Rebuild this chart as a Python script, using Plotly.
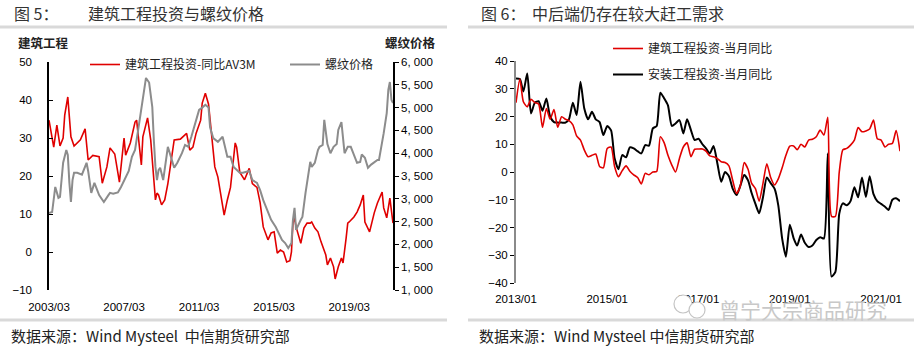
import pandas as pd
import plotly.graph_objects as go

W, H = 918, 350

# ---------------- 图5：建筑工程投资与螺纹价格 ----------------
inv_dates = ["2003-03", "2003-06", "2003-08", "2003-10", "2003-12", "2004-01", "2004-03", "2004-05",
             "2004-07", "2004-11", "2005-02", "2005-04", "2005-07", "2005-11", "2006-01", "2006-04",
             "2006-06", "2006-09", "2006-12", "2007-03", "2007-04", "2007-07", "2007-10", "2007-11",
             "2008-01", "2008-02", "2008-03", "2008-06", "2008-08", "2008-10", "2008-11", "2008-12",
             "2009-01", "2009-03", "2009-05", "2009-07", "2009-11", "2010-03", "2010-07", "2010-09",
             "2010-11", "2011-01", "2011-04", "2011-05", "2011-07", "2011-09", "2011-11", "2012-01",
             "2012-03", "2012-05", "2012-07", "2012-09", "2012-11", "2013-02", "2013-03", "2013-05",
             "2013-08", "2013-11", "2014-01", "2014-04", "2014-06", "2014-08", "2014-11", "2015-01",
             "2015-03", "2015-05", "2015-07", "2015-09", "2015-11", "2016-01", "2016-02", "2016-03",
             "2016-04", "2016-05", "2016-08", "2016-10", "2016-12", "2017-02", "2017-03", "2017-05",
             "2017-07", "2017-09", "2017-12", "2018-01", "2018-03", "2018-05", "2018-06", "2018-08",
             "2018-10", "2018-11", "2018-12", "2019-01", "2019-02", "2019-03", "2019-06", "2019-08",
             "2019-10", "2019-12", "2020-01", "2020-04", "2020-07", "2020-09", "2020-12", "2021-01",
             "2021-03", "2021-05", "2021-07"]
inv_yoy_av3m = [34.7, 27.6, 33.4, 27.9, 30.0, 36.0, 40.8, 30.3,
                27.9, 29.5, 32.4, 24.2, 25.4, 25.1, 18.1, 22.4,
                27.4, 25.8, 18.4, 30.0, 25.5, 28.7, 34.2, 34.7,
                26.8, 22.9, 30.3, 35.3, 29.5, 19.0, 13.7, 15.5,
                15.0, 12.4, 13.7, 18.0, 29.5, 29.7, 31.2, 26.8,
                27.6, 31.2, 34.7, 39.2, 41.8, 38.9, 30.3, 22.4,
                19.7, 14.5, 9.7, 13.7, 17.0, 28.7, 27.6, 21.0,
                19.0, 22.0, 18.0, 17.0, 13.0, 6.6, 3.2, 5.0,
                5.3, -0.3, 0.5, 0.0, -2.6, -2.3, 0.0, 7.6,
                9.0, 6.6, 2.3, 6.3, 7.6, 7.6, 7.9, 6.3,
                5.3, 2.6, -0.8, -3.4, -1.6, -3.9, -7.1, -3.9,
                -1.6, -2.9, 0.0, 3.7, 7.6, 7.9, 9.2, 10.5,
                12.4, 15.0, 7.9, 5.3, 10.3, 12.9, 15.8, 11.6,
                9.0, 14.2, 7.6]

rebar_dates = ["2003-03", "2003-05", "2003-07", "2003-09", "2003-10", "2003-12", "2004-02", "2004-03",
               "2004-04", "2004-05", "2004-06", "2004-07", "2004-09", "2004-12", "2005-03", "2005-04",
               "2005-06", "2005-08", "2005-11", "2006-02", "2006-05", "2006-06", "2006-08", "2006-11",
               "2007-01", "2007-04", "2007-06", "2007-08", "2007-10", "2007-12", "2008-02", "2008-04",
               "2008-05", "2008-07", "2008-09", "2008-10", "2008-11", "2008-12", "2009-01", "2009-02",
               "2009-04", "2009-07", "2009-11", "2010-01", "2010-04", "2010-06", "2010-08", "2010-10",
               "2010-12", "2011-03", "2011-05", "2011-07", "2011-09", "2011-10", "2011-12", "2012-03",
               "2012-06", "2012-09", "2012-11", "2013-01", "2013-05", "2013-07", "2013-11", "2014-01",
               "2014-04", "2014-06", "2014-08", "2014-11", "2015-01", "2015-04", "2015-06", "2015-08",
               "2015-10", "2015-12", "2016-02", "2016-03", "2016-04", "2016-05", "2016-08", "2016-09",
               "2016-11", "2016-12", "2017-02", "2017-03", "2017-05", "2017-07", "2017-08", "2017-10",
               "2017-11", "2018-01", "2018-03", "2018-05", "2018-07", "2018-08", "2018-10", "2018-12",
               "2019-02", "2019-04", "2019-06", "2019-08", "2019-10", "2019-11", "2020-01", "2020-03",
               "2020-05", "2020-07", "2020-09", "2020-10", "2020-12", "2021-01", "2021-03", "2021-04",
               "2021-05", "2021-06", "2021-07"]
rebar_price = [2690, 2710, 3260, 3020, 3040, 3790, 4070, 3960,
               3350, 2930, 3410, 3570, 3570, 3530, 3790, 3610,
               3130, 3350, 3080, 2930, 3080, 3130, 3110, 3140,
               3260, 3480, 3610, 3920, 4070, 4510, 5010, 5450,
               5650, 5550, 5010, 4290, 3700, 3410, 3630, 3680,
               3410, 4140, 3680, 3790, 4000, 4180, 4140, 4360,
               4620, 4950, 5000, 5060, 5000, 4570, 4330, 4250,
               4360, 3920, 3920, 3700, 3570, 3570, 3610, 3410,
               3350, 3190, 2970, 2690, 2540, 2380, 2250, 2100,
               2030, 1920, 2030, 2540, 2800, 2320, 2540, 2600,
               3130, 3370, 3810, 3700, 3790, 4070, 4140, 4180,
               4730, 4200, 4000, 4140, 4200, 4510, 4680, 4000,
               4140, 4140, 3970, 3790, 3810, 3970, 3900, 3680,
               3750, 3810, 3850, 3850, 4220, 4440, 4880, 5390,
               5560, 5170, 5100]

fig5_ticks = ["2003-03-01", "2007-03-01", "2011-03-01", "2015-03-01", "2019-03-01"]
fig5_ticktext = ["2003/03", "2007/03", "2011/03", "2015/03", "2019/03"]
price_ticks = [1000, 1500, 2000, 2500, 3000, 3500, 4000, 4500, 5000, 5500, 6000]

# ---------------- 图6：中后端仍存在较大赶工需求 ----------------
fig6_start = "2013-01-01"
build_yoy = [25, 33.5, 25.3, 23.5, 26.2, 25, 24.5, 16.1, 22.9, 19,
             22.5, 16.1, 19.9, 19, 18.5, 17, 13, 11.5, 8, 5.5,
             6, 6.5, 2, 1.5, 8.5, 9, 2, -1.7, 0.5, 2.2,
             0.3, -1, -2, -4.3, -0.5, -1, 0, 0.2, 12.7, 10.5,
             6, 2.5, 0, 4.9, 9, 10.5, 5.5, 8.2, 8.3, 8.3,
             7.5, 5.8, 5.5, 4.8, 3.7, 3.4, 2.2, -3, -7.7, -5,
             3.4, 1, -4, -6, -10.5, -4, 3, -2, -4.7, -2.5,
             1.5, 6, 9.3, 9.4, 8, 10, 9, 11.5, 11.8, 12.7,
             15.1, 13.3, 19.7, -16, -16, 0, 8, 8.5, 9.7, 11.5,
             16, 14.5, 14.8, 15.5, 18.7, 12, 11.5, 9, 10, 10.3,
             14.9, 7.5]
install_yoy = [33.7, 33.5, 29, 35.5, 21.1, 25, 25.5, 22.1, 26.5, 20,
               18, 17.8, 17.8, 17.8, 19, 25, 20.5, 32.5, 23, 19,
               21.7, 19, 18, 13.3, 16.6, 15, 5, 1, 6.1, 5.3,
               8.9, 8.5, 7.5, 6.7, 9.7, 9.5, 15.7, 16.6, 28.6, 26.5,
               24, 16.6, 17.5, 18.7, 13.9, 19, 15.1, 11.5, 12, 10,
               8.5, 6.7, 9.4, 3, -3.5, 0, -1.5, -6, -8.3, -5,
               -1.1, -3, -7.5, -11.5, -14.9, -9, -2, -4, -6, -12,
               -24, -30.5, -19, -23.9, -26.5, -22.5, -25.5, -27, -26.5, -24.5,
               -23.5, -24, 6.7, -37.7, -36, -15, -11.3, -12, -10.5, -5.5,
               -9.1, -2, -9, -1.5, -8, -10.5, -11.5, -12.5, -13.7, -10,
               -9.5, -10.5]
fig6_months = pd.date_range(fig6_start, periods=len(build_yoy), freq="MS")

fig6_ticks = ["2013-01-01", "2015-01-01", "2017-01-01", "2019-01-01", "2021-01-01"]
fig6_ticktext = ["2013/01", "2015/01", "2017/01", "2019/01", "2021/01"]

# ---------------- styling ----------------
CJK = "Noto Sans CJK SC"
NUM = "Liberation Sans, Arial"
RED = "#e00000"
GREY = "#8c8c8c"
TXT = "#222222"


def px(x):
    return x / W


def py(y):
    return 1 - y / H


fig = go.Figure()

# figure 5 traces
fig.add_trace(go.Scatter(x=rebar_dates, y=rebar_price, xaxis="x", yaxis="y2", mode="lines",
                         line=dict(color=GREY, width=2), name="螺纹价格",
                         legend="legend", legendrank=2))
fig.add_trace(go.Scatter(x=inv_dates, y=inv_yoy_av3m, xaxis="x", yaxis="y", mode="lines",
                         line=dict(color=RED, width=1.6), name="建筑工程投资-同比AV3M",
                         legend="legend", legendrank=1))

# figure 6 traces
fig.add_trace(go.Scatter(x=fig6_months, y=install_yoy, xaxis="x2", yaxis="y3", mode="lines",
                         line=dict(color="#000000", width=2, shape="spline", smoothing=0.6),
                         name="安装工程投资-当月同比", legend="legend2", legendrank=2,
                         legendgroup="b"))
fig.add_trace(go.Scatter(x=fig6_months, y=build_yoy, xaxis="x2", yaxis="y3", mode="lines",
                         line=dict(color=RED, width=1.6, shape="spline", smoothing=0.6),
                         name="建筑工程投资-当月同比", legend="legend2", legendrank=1,
                         legendgroup="a"))

tickfont = dict(family=NUM, size=11.5, color="#000000")

# plot areas
f5_x = [px(49), px(393)]
f5_y = [py(290), py(62)]
f6_x = [px(516), px(900)]
f6_y = [py(283), py(61)]

f5_range = ["2003-03-01", "2021-07-01"]
f6_range = ["2013-01-01", "2021-06-01"]

common = dict(automargin=False, showgrid=False, zeroline=False)

fig.update_layout(
    template="none",
    width=W, height=H, margin=dict(l=0, r=0, t=0, b=0, pad=0), autosize=False,
    paper_bgcolor="white", plot_bgcolor="rgba(0,0,0,0)",
    font=dict(family=CJK, color=TXT),
    # figure 5 axes
    xaxis=dict(domain=f5_x, anchor="y", type="date", range=f5_range,
               tickvals=fig5_ticks, ticktext=fig5_ticktext, tickfont=tickfont,
               showline=False, ticks="", ticklabelstandoff=8, **common),
    xaxis3=dict(overlaying="x", anchor="free", position=py(252), type="date", range=f5_range,
                tickvals=fig5_ticks, showticklabels=False, showline=True, linecolor="#000000",
                linewidth=1.5, ticks="inside", ticklen=4, tickcolor="#000000", tickwidth=1.2,
                **common),
    yaxis=dict(domain=f5_y, anchor="x", range=[-10, 50], dtick=10, tickfont=tickfont,
               showline=True, linecolor="#000000", linewidth=1.5, ticks="inside", ticklen=4,
               tickcolor="#000000", ticklabelstandoff=13, **common),
    yaxis2=dict(overlaying="y", side="right", anchor="x", range=[1000, 6000],
                tickvals=price_ticks, ticktext=[f"{v // 1000}, {v % 1000:03d}" for v in price_ticks],
                tickfont=tickfont, showline=True, linecolor="#000000", linewidth=1.5,
                ticks="outside", ticklen=4, tickcolor="#000000", **common),
    # figure 6 axes
    xaxis2=dict(domain=f6_x, anchor="y3", type="date", range=f6_range,
                tickvals=fig6_ticks, ticktext=fig6_ticktext, tickfont=tickfont,
                showline=False, ticks="", ticklabelstandoff=7, **common),
    xaxis4=dict(overlaying="x2", anchor="free", position=py(172), type="date", range=f6_range,
                tickvals=fig6_ticks, showticklabels=False, showline=True, linecolor="#000000",
                linewidth=1.5, ticks="inside", ticklen=4, tickcolor="#000000", tickwidth=1.2,
                **common),
    yaxis3=dict(domain=f6_y, anchor="x2", range=[-40, 40], dtick=10, tickfont=tickfont,
                showline=True, linecolor="#8a8a8a", linewidth=2, ticks="outside", ticklen=4,
                tickcolor="#000000", **common),
    legend=dict(orientation="h", x=px(85), y=py(50), xanchor="left", yanchor="top",
                font=dict(family=CJK, size=12, color=TXT), bgcolor="rgba(0,0,0,0)",
                entrywidth=155, itemwidth=30, traceorder="normal"),
    legend2=dict(orientation="v", x=px(608), y=py(34), xanchor="left", yanchor="top",
                 font=dict(family=CJK, size=12, color=TXT), bgcolor="rgba(0,0,0,0)",
                 itemwidth=30, traceorder="grouped", tracegroupgap=7),
    showlegend=True,
)

# title / source rules
rule = dict(color="#d9d9d9", width=3)
for x0, x1, y in [(0, 447, 27), (468, 914, 27), (0, 447, 320), (468, 914, 320)]:
    fig.add_shape(type="line", xref="paper", yref="paper", x0=px(x0), x1=px(x1),
                  y0=py(y), y1=py(y), line=rule, layer="below")

# chat-bubble badge in front of the account name
for cx, cy, r in [(683, 304, 9), (697, 310, 8)]:
    fig.add_shape(type="circle", xref="paper", yref="paper", x0=px(cx - r), x1=px(cx + r),
                  y0=py(cy + r), y1=py(cy - r), line=dict(color="#c4c4c4", width=1.2),
                  fillcolor="white")


def label(text, x, y, size, anchor="left", bold=False, color=TXT, family=CJK):
    if bold:
        text = f"<b>{text}</b>"
    fig.add_annotation(text=text, xref="paper", yref="paper", x=px(x), y=py(y),
                       xanchor=anchor, yanchor="middle", showarrow=False,
                       font=dict(family=family, size=size, color=color))


label("图 5：", 12, 13, 16, color="#333333")
label("建筑工程投资与螺纹价格", 86, 13, 16, color="#333333")
label("图 6：", 479, 13, 16, color="#333333")
label("中后端仍存在较大赶工需求", 530, 13, 16, color="#333333")

label("建筑工程", 16, 42, 12.5, bold=True)
label("螺纹价格", 438, 42, 12.5, anchor="right", bold=True)

label("数据来源：Wind Mysteel  中信期货研究部", 9, 335, 15)
label("数据来源：Wind Mysteel 中信期货研究部", 477, 335, 15)

label("曾宁大宗商品研究", 889, 309, 21, anchor="right", color="#c8c8c8")

fig.write_html("out.html")
